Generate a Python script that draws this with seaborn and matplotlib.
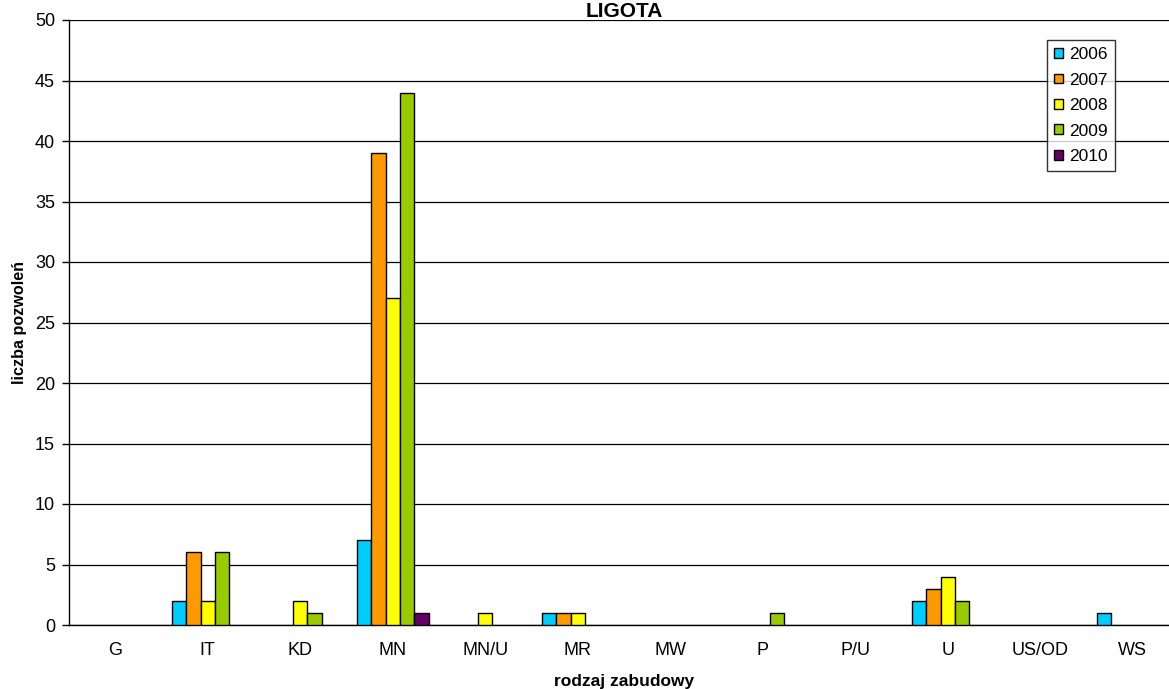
import numpy as np
import pandas as pd
import matplotlib
matplotlib.use('Agg')
import matplotlib.pyplot as plt
import seaborn as sns

# data (0 = no bar)
categories = ['G', 'IT', 'KD', 'MN', 'MN/U', 'MR', 'MW', 'P', 'P/U', 'U', 'US/OD', 'WS']
years = ['2006', '2007', '2008', '2009', '2010']
v2006 = [0, 2, 0, 7, 0, 1, 0, 0, 0, 2, 0, 1]
v2007 = [0, 6, 0, 39, 0, 1, 0, 0, 0, 3, 0, 0]
v2008 = [0, 2, 2, 27, 1, 1, 0, 0, 0, 4, 0, 0]
v2009 = [0, 6, 1, 44, 0, 0, 0, 1, 0, 2, 0, 0]
v2010 = [0, 0, 0, 1, 0, 0, 0, 0, 0, 0, 0, 0]
colors = ['#00CCFF', '#FF9900', '#FFFF00', '#99CC00', '#660066']

sns.set_style('white')
plt.rcParams['font.family'] = ['Liberation Sans', 'DejaVu Sans']
plt.rcParams.update({'text.color': 'black', 'axes.labelcolor': 'black',
                     'xtick.color': 'black', 'ytick.color': 'black'})

rows = []
for year, vals in zip(years, [v2006, v2007, v2008, v2009, v2010]):
    for cat, v in zip(categories, vals):
        if v > 0:
            rows.append({'rodzaj': cat, 'rok': year, 'liczba': v})
df = pd.DataFrame(rows)

fig = plt.figure(figsize=(11.69, 6.89), dpi=100)
# plot area runs a little past the right edge of the image, like the original
ax = fig.add_axes([69 / 1169, 64 / 689, 1110 / 1169, 605 / 689])

sns.barplot(data=df, x='rodzaj', y='liczba', hue='rok', order=categories,
            hue_order=years, palette=colors, width=0.78, edgecolor='black',
            linewidth=1, saturation=1, ax=ax, zorder=3)

ax.set_ylim(0, 50)
ax.set_xlim(-0.5, len(categories) - 0.5)
ax.set_yticks(range(0, 51, 5))
ax.yaxis.grid(True, color='black', linewidth=0.9)
ax.set_axisbelow(True)

# tick marks between categories
ax.set_xticks(np.arange(-0.5, len(categories), 1), minor=True)
ax.tick_params(axis='x', which='major', length=0, labelsize=13, pad=12)
ax.tick_params(axis='x', which='minor', length=4, width=1, color='black', direction='out')
ax.tick_params(axis='y', length=5, width=1, color='black', direction='out',
               labelsize=13, pad=5, left=True)

for side in ['top', 'right']:
    ax.spines[side].set_visible(False)
for side in ['left', 'bottom']:
    ax.spines[side].set_color('black')
    ax.spines[side].set_linewidth(1)

ax.set_title('LIGOTA', fontsize=15, fontweight='bold', pad=2)
ax.set_xlabel('rodzaj zabudowy', fontsize=12.5, fontweight='bold', labelpad=11)
ax.set_ylabel('liczba pozwoleń', fontsize=11.6, fontweight='bold', labelpad=6)

leg = ax.legend(loc='upper right', bbox_to_anchor=(0.9423, 0.967), fontsize=12.5,
                frameon=True, fancybox=False, handlelength=0.5, handleheight=0.5,
                handletextpad=0.35, labelspacing=0.6, borderpad=0.42, borderaxespad=0)
leg.get_frame().set_edgecolor('black')
leg.get_frame().set_linewidth(1)

plt.savefig('out.png', dpi=100)
